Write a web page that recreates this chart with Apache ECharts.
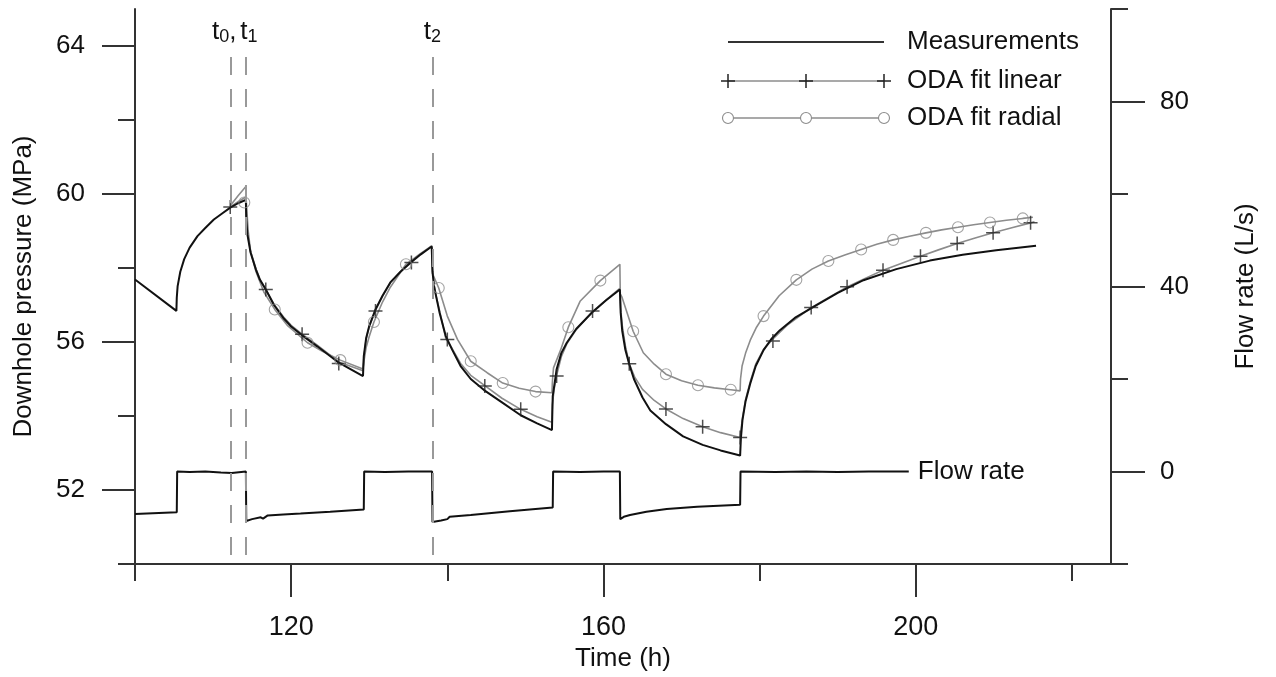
<!DOCTYPE html>
<html>
<head>
<meta charset="utf-8">
<script src="https://cdn.jsdelivr.net/npm/echarts@6/dist/echarts.min.js"></script>
<style>
  html, body { margin: 0; padding: 0; background: #fff; }
  #chart { width: 1276px; height: 677px; }
</style>
</head>
<body>
<div id="chart"></div>
<script>
const chart = echarts.init(document.querySelector('#chart'));

// ticks
const xMajor = [120, 160, 200];
const xMinor = [100, 140, 180, 220];
const pMajor = [52, 56, 60, 64];
const pMinor = [50, 54, 58, 62];
const qMajor = [0, 40, 80];
const qMinor = [-20, 20, 60, 100];

// event times t0, t1, t2
const eventTimes = [112.2, 114.2, 138.1];
const eventNames = ['{t|t}{s|0}{t|,}', '{t|t}{s|1}', '{t|t}{s|2}'];

// downhole pressure, measured (h, MPa)
const measured = [
    [100, 57.69], [105.3, 56.84], [105.35, 57.2], [105.46, 57.51], [105.8, 57.9], [106.3, 58.24],
    [107.0, 58.55], [108.0, 58.86], [109.0, 59.08], [110.1, 59.31], [111.2, 59.48], [112.2, 59.63],
    [113.2, 59.75], [114.2, 59.84],
    [114.25, 59.3], [114.4, 58.9], [114.8, 58.42], [115.5, 57.95], [116.0, 57.68], [116.75, 57.42],
    [117.8, 57.0], [119.0, 56.65], [120.0, 56.42], [121.4, 56.18], [123.3, 55.89], [126.1, 55.44], [129.2, 55.08],
    [129.3, 55.62], [129.6, 56.1], [130.0, 56.43], [130.8, 56.88], [131.7, 57.25], [132.7, 57.61],
    [134.0, 57.9], [135.3, 58.15], [136.6, 58.37], [138.0, 58.58],
    [138.1, 57.9], [138.3, 57.5], [138.6, 57.2], [139.0, 56.8], [139.8, 56.16], [140.6, 55.8],
    [141.7, 55.35], [143.0, 55.0], [144.7, 54.7], [147.0, 54.37], [149.4, 54.02], [151.5, 53.8], [153.4, 53.62],
    [153.5, 54.54], [154.0, 55.26], [154.6, 55.7], [155.3, 55.98], [156.5, 56.35], [158.5, 56.79],
    [160.3, 57.12], [162.1, 57.42],
    [162.2, 56.8], [162.4, 56.3], [162.8, 55.79], [163.3, 55.4], [163.9, 55.0], [165.0, 54.5],
    [166.0, 54.15], [168.0, 53.78], [170.2, 53.45], [172.7, 53.22], [175.0, 53.07], [177.5, 52.93],
    [177.6, 53.4], [177.8, 53.89], [178.2, 54.4], [178.8, 54.88], [179.5, 55.35], [180.5, 55.78],
    [181.5, 56.08], [182.6, 56.32], [184.5, 56.65], [186.9, 56.95], [190.0, 57.33], [193.3, 57.67],
    [197.5, 57.97], [201.8, 58.2], [206.0, 58.36], [210.3, 58.48], [215.4, 58.6]
];

// ODA fit linear
const linearFit = [
    [112.2, 59.65], [113.2, 59.79], [114.2, 59.92],
    [114.25, 59.4], [114.4, 58.95], [114.8, 58.45], [115.5, 57.97], [116.0, 57.7], [116.75, 57.42],
    [117.8, 57.02], [119.0, 56.68], [120.0, 56.45], [121.4, 56.21], [123.3, 55.92], [126.1, 55.46], [129.2, 55.22],
    [129.3, 55.55], [129.6, 56.08], [130.0, 56.42], [130.8, 56.86], [131.7, 57.24], [132.7, 57.6],
    [134.0, 57.9], [135.4, 58.15], [136.6, 58.37], [138.0, 58.6],
    [138.1, 58.0], [138.3, 57.55], [138.6, 57.22], [139.0, 56.85], [139.8, 56.1], [140.6, 55.83],
    [141.7, 55.42], [143.0, 55.1], [144.8, 54.82], [147.0, 54.48], [149.4, 54.18], [151.5, 53.98], [153.4, 53.83],
    [153.45, 54.3], [153.7, 54.75], [154.0, 55.1], [154.6, 55.6], [155.3, 55.95], [156.5, 56.33],
    [158.6, 56.82], [160.3, 57.13], [162.1, 57.45],
    [162.2, 56.9], [162.4, 56.45], [162.8, 55.9], [163.3, 55.41], [164.0, 55.05], [165.0, 54.72],
    [166.5, 54.42], [168.0, 54.19], [170.2, 53.93], [172.7, 53.71], [175.0, 53.55], [177.5, 53.42],
    [177.6, 53.45], [177.8, 53.95], [178.2, 54.45], [178.8, 54.93], [179.5, 55.4], [180.5, 55.8],
    [181.7, 56.08], [183.5, 56.45], [186.6, 56.93], [188.8, 57.2], [191.2, 57.49], [193.5, 57.72],
    [195.8, 57.94], [198.2, 58.13], [200.6, 58.32], [202.9, 58.49], [205.3, 58.66], [207.6, 58.81],
    [209.9, 58.95], [212.3, 59.09], [214.7, 59.22], [215.2, 59.25]
];
const linearMarks = [
    [112.2, 59.65], [116.75, 57.42], [121.4, 56.21], [126.1, 55.42], [130.8, 56.84], [135.4, 58.15],
    [140.0, 56.07], [144.8, 54.81], [149.4, 54.18], [154.0, 55.08], [158.6, 56.84], [163.3, 55.41],
    [168.0, 54.19], [172.7, 53.71], [177.5, 53.42], [181.7, 56.03], [186.6, 56.93], [191.2, 57.49],
    [195.8, 57.94], [200.6, 58.32], [205.3, 58.66], [209.9, 58.95], [214.7, 59.22]
];

// ODA fit radial
const radialFit = [
    [112.2, 59.68], [113.2, 59.95], [114.2, 60.2],
    [114.25, 59.8], [114.5, 59.0], [114.8, 58.45], [115.5, 57.9], [116.5, 57.35], [117.9, 56.88],
    [119.5, 56.45], [122.1, 55.98], [124.0, 55.75], [126.3, 55.51], [129.2, 55.27],
    [129.3, 55.45], [129.6, 55.85], [130.0, 56.15], [130.6, 56.54], [131.7, 57.08], [132.7, 57.48],
    [134.7, 58.1], [136.5, 58.38], [138.0, 58.6],
    [138.1, 57.85], [138.9, 57.46], [140.0, 56.7], [141.3, 56.07], [143.0, 55.48], [145.1, 55.17],
    [147.1, 54.89], [149.2, 54.75], [151.3, 54.66], [153.4, 54.63],
    [153.45, 54.9], [153.5, 55.05], [153.6, 55.3], [154.5, 55.78], [155.5, 56.4], [157.0, 57.1],
    [159.6, 57.66], [162.1, 58.1],
    [162.15, 57.3], [162.35, 57.22], [163.8, 56.29], [165.1, 55.71], [166.5, 55.4], [168.0, 55.13],
    [170.0, 54.95], [172.1, 54.83], [174.2, 54.76], [176.3, 54.71], [177.5, 54.68],
    [177.55, 55.0], [177.7, 55.05], [177.75, 55.35], [178.2, 55.7], [178.8, 56.05], [179.6, 56.4],
    [180.5, 56.7], [182.5, 57.25], [184.7, 57.68], [186.7, 57.97], [188.8, 58.19], [191.0, 58.36],
    [193.0, 58.5], [195.0, 58.64], [197.1, 58.76], [199.2, 58.86], [201.3, 58.95], [203.3, 59.03],
    [205.4, 59.1], [207.4, 59.17], [209.5, 59.23], [211.6, 59.29], [213.7, 59.34], [215.0, 59.37]
];
const radialMarks = [
    [114.0, 59.77], [117.9, 56.88], [122.1, 55.98], [126.3, 55.51], [130.6, 56.54], [134.7, 58.1],
    [138.9, 57.46], [143.0, 55.48], [147.1, 54.89], [151.3, 54.66], [155.5, 56.4], [159.6, 57.66],
    [163.8, 56.29], [168.0, 55.13], [172.1, 54.83], [176.3, 54.71], [180.5, 56.7], [184.7, 57.68],
    [188.8, 58.19], [193.0, 58.5], [197.1, 58.76], [201.3, 58.95], [205.4, 59.1], [209.5, 59.23], [213.7, 59.34]
];

// flow rate (h, L/s)
const flowRate = [
    [100, -9.2], [105.35, -8.8], [105.4, 0], [107, -0.1], [109, 0], [111, -0.2], [112.4, -0.3], [112.6, 0],
    [114.2, 0], [114.25, -10.7], [115, -10.3], [116.1, -9.9], [116.4, -10.2], [117.0, -9.5], [119, -9.3],
    [121.2, -9.1], [125, -8.7], [129.3, -8.2], [129.35, 0], [132, -0.1], [135, 0], [138.05, 0],
    [138.1, -10.9], [139.2, -10.6], [140.0, -10.3], [140.3, -9.8], [143, -9.4], [148, -8.6], [153.5, -7.8],
    [153.55, 0], [157, -0.1], [160, 0], [162.1, 0], [162.15, -10.3], [162.6, -9.8], [163.4, -9.4],
    [165.5, -8.7], [168.1, -8.1], [172, -7.6], [177.5, -7.2], [177.55, 0], [182, -0.1], [186, 0],
    [190, -0.1], [194, 0], [199.1, 0]
];

const ink = '#111';
const axisColor = '#333';
const fitGray = '#8c8c8c';
const font = '"Liberation Sans", Arial, sans-serif';
const crossPath = 'path://M7,0 L7,14 M0,7 L14,7';

const axisLine = { show: true, onZero: false, lineStyle: { color: axisColor, width: 2 } };
const tickStyle = { color: axisColor, width: 2 };

// legend drawn as graphic (line with three markers)
const legendX = [728, 806, 884];
const legendRows = [
    { y: 42, text: 'Measurements', kind: 'line' },
    { y: 81, text: 'ODA fit linear', kind: 'cross' },
    { y: 118, text: 'ODA fit radial', kind: 'circle' }
];
const legendGraphic = [];
legendRows.forEach(row => {
    legendGraphic.push({
        type: 'line',
        shape: { x1: legendX[0], y1: row.y, x2: legendX[2], y2: row.y },
        style: { stroke: row.kind === 'line' ? '#333' : fitGray, lineWidth: row.kind === 'line' ? 2 : 1.6 }
    });
    legendX.forEach(x => {
        if (row.kind === 'cross') {
            legendGraphic.push({ type: 'line', shape: { x1: x - 7, y1: row.y, x2: x + 7, y2: row.y }, style: { stroke: '#222', lineWidth: 1.5 } });
            legendGraphic.push({ type: 'line', shape: { x1: x, y1: row.y - 7, x2: x, y2: row.y + 7 }, style: { stroke: '#222', lineWidth: 1.5 } });
        } else if (row.kind === 'circle') {
            legendGraphic.push({ type: 'circle', shape: { cx: x, cy: row.y, r: 5.5 }, style: { fill: '#fff', stroke: fitGray, lineWidth: 1.1 } });
        }
    });
    legendGraphic.push({
        type: 'text',
        x: 907,
        y: row.y,
        style: { text: row.text, font: '26px ' + font, fill: ink, verticalAlign: 'middle' }
    });
});

chart.setOption({
    animation: false,
    textStyle: { fontFamily: font, color: ink },
    grid: { left: 135, right: 165, top: 9, bottom: 113, outerBoundsMode: 'none' },
    xAxis: [
        {
            type: 'value', min: 100, max: 225, position: 'bottom',
            axisLine: axisLine,
            axisTick: { customValues: xMajor, length: 33, lineStyle: tickStyle },
            axisLabel: { customValues: xMajor, margin: 50, fontSize: 27, color: ink },
            splitLine: { show: false },
            name: 'Time (h)', nameLocation: 'middle', nameGap: 80,
            nameTextStyle: { fontSize: 26, color: ink }
        },
        {
            type: 'value', min: 100, max: 225, position: 'bottom',
            axisLine: { show: false, onZero: false },
            axisTick: { customValues: xMinor, length: 17, lineStyle: tickStyle },
            axisLabel: { show: false },
            splitLine: { show: false }
        }
    ],
    yAxis: [
        {
            type: 'value', min: 50, max: 65, position: 'left',
            axisLine: axisLine,
            axisTick: { customValues: pMajor, length: 33, lineStyle: tickStyle },
            axisLabel: { customValues: pMajor, margin: 50, fontSize: 26, color: ink },
            splitLine: { show: false },
            name: 'Downhole pressure (MPa)', nameLocation: 'middle', nameRotate: 90, nameGap: 98,
            nameTextStyle: { fontSize: 26, color: ink }
        },
        {
            type: 'value', min: 50, max: 65, position: 'left',
            axisLine: { show: false, onZero: false },
            axisTick: { customValues: pMinor, length: 17, lineStyle: tickStyle },
            axisLabel: { show: false },
            splitLine: { show: false }
        },
        {
            type: 'value', min: -20, max: 100, position: 'right',
            axisLine: axisLine,
            axisTick: { customValues: qMajor, length: 34, lineStyle: tickStyle },
            axisLabel: { customValues: qMajor, margin: 49, fontSize: 26, color: ink },
            splitLine: { show: false },
            name: 'Flow rate (L/s)', nameLocation: 'middle', nameRotate: 90, nameGap: 122,
            nameTextStyle: { fontSize: 26, color: ink }
        },
        {
            type: 'value', min: -20, max: 100, position: 'right',
            axisLine: { show: false, onZero: false },
            axisTick: { customValues: qMinor, length: 17, lineStyle: tickStyle },
            axisLabel: { show: false },
            splitLine: { show: false }
        }
    ],
    graphic: legendGraphic,
    series: [
        {
            name: 'ODA fit linear', type: 'line', data: linearFit,
            symbol: 'none', lineStyle: { color: fitGray, width: 1.6 }, z: 2
        },
        {
            name: 'ODA fit radial', type: 'line', data: radialFit,
            symbol: 'none', lineStyle: { color: fitGray, width: 1.6 }, z: 2
        },
        {
            name: 'Measurements', type: 'line', data: measured,
            symbol: 'none', lineStyle: { color: ink, width: 2 }, z: 3,
            markLine: {
                silent: true,
                symbol: ['none', 'none'],
                lineStyle: { color: '#999', width: 2, type: [18, 14] },
                label: {
                    show: true, position: 'end', distance: 4,
                    rich: {
                        t: { fontSize: 26, color: ink, fontFamily: font },
                        s: { fontSize: 18, color: ink, fontFamily: font, verticalAlign: 'bottom', padding: [10, 0, 0, 0] }
                    }
                },
                data: eventTimes.map((t, i) => [
                    { coord: [t, 50.24] },
                    {
                        coord: [t, 63.89],
                        label: { formatter: eventNames[i], padding: i === 0 ? [0, 12, 0, 0] : (i === 1 ? [0, 0, 0, 6] : 0) }
                    }
                ])
            }
        },
        {
            name: 'ODA fit linear marks', type: 'scatter', data: linearMarks,
            symbol: crossPath, symbolSize: 14,
            itemStyle: { color: 'none', borderColor: '#222', borderWidth: 1.5 }, z: 4
        },
        {
            name: 'ODA fit radial marks', type: 'scatter', data: radialMarks,
            symbol: 'circle', symbolSize: 11,
            itemStyle: { color: 'rgba(255,255,255,0)', borderColor: fitGray, borderWidth: 1.1 }, z: 4
        },
        {
            name: 'Flow rate', type: 'line', yAxisIndex: 2, data: flowRate,
            symbol: 'none', lineStyle: { color: ink, width: 2 },
            endLabel: { show: true, formatter: 'Flow rate', fontSize: 26, color: ink, distance: 9 }
        }
    ]
});
</script>
</body>
</html>
